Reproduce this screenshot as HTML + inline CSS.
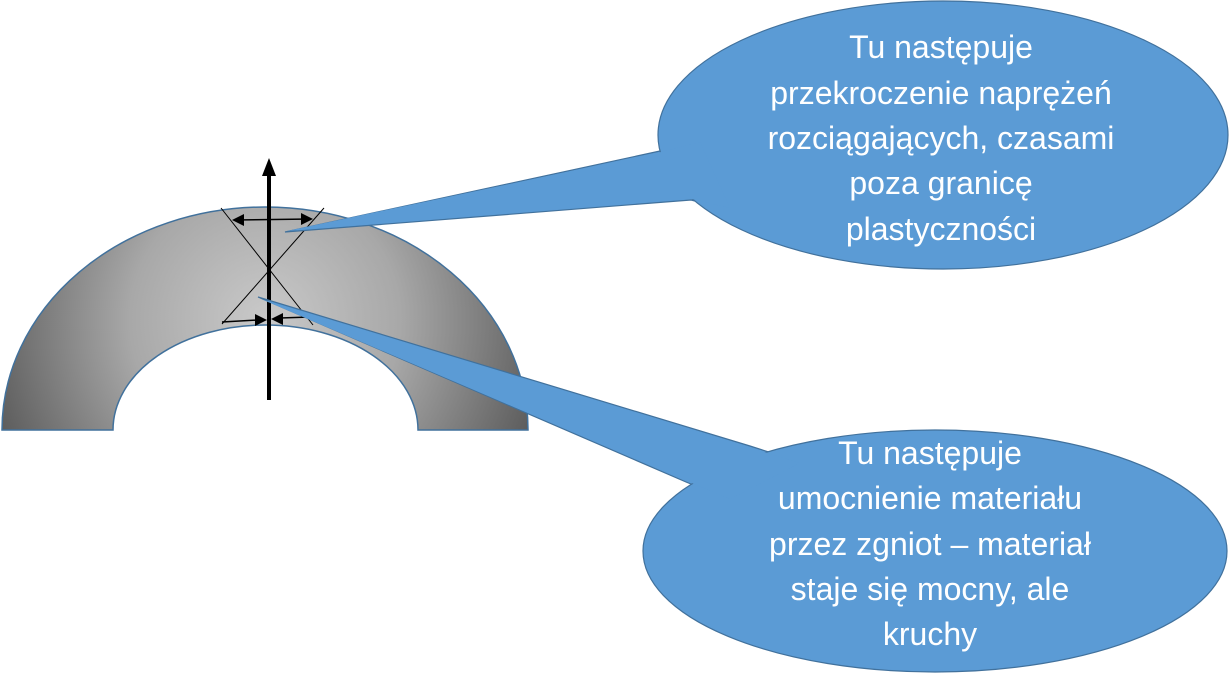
<!DOCTYPE html>
<html><head><meta charset="utf-8"><style>
html,body{margin:0;padding:0;background:#fff;width:1230px;height:677px;overflow:hidden}
svg{display:block}
text{font-family:"Liberation Sans",sans-serif;font-size:32px;fill:#fff;text-anchor:middle}
</style></head><body>
<svg width="1230" height="677" viewBox="0 0 1230 677">
<defs>
<radialGradient id="g" gradientUnits="userSpaceOnUse" cx="265" cy="320" r="300">
<stop offset="0" stop-color="#c9c9c9"/>
<stop offset="0.45" stop-color="#a8a8a8"/>
<stop offset="1" stop-color="#555"/>
</radialGradient>
</defs>
<path d="M2,430 A263,223 0 0 1 528,430 L418,430 A152.5,105 0 0 0 113,430 Z" fill="url(#g)" stroke="#41719c" stroke-width="1.5"/>
<line x1="221" y1="208" x2="313" y2="325" stroke="#000" stroke-width="1"/>
<line x1="324" y1="208" x2="222" y2="324" stroke="#000" stroke-width="1"/>
<line x1="234" y1="220" x2="311" y2="219" stroke="#000" stroke-width="1.5"/>
<path d="M232,220 L244,214 L244,226z" fill="#000"/>
<path d="M313,219 L301,213 L301,225z" fill="#000"/>
<line x1="222" y1="322" x2="258" y2="320" stroke="#000" stroke-width="1.5"/>
<path d="M267,320 L255,314 L255,326z" fill="#000"/>
<line x1="280" y1="318" x2="310" y2="317" stroke="#000" stroke-width="1.5"/>
<path d="M271,319 L283,313 L283,325z" fill="#000"/>
<line x1="269" y1="400" x2="269" y2="172" stroke="#000" stroke-width="4"/>
<path d="M269,158 L262,176 L276,176z" fill="#000"/>
<!-- callout 1 -->
<path d="M700,140 L660,151 L285,232 L691,200 L730,210 Z" fill="#5b9bd5" stroke="#41719c" stroke-width="1.2"/>
<ellipse cx="943" cy="135" rx="285" ry="134" fill="#5b9bd5" stroke="#41719c" stroke-width="1.2"/>
<path d="M700,142 L661,152 L287,231 L692,199 L730,208Z" fill="#5b9bd5"/>
<!-- callout 2 -->
<path d="M800,462 L750,446 L258,297 L686,482 L730,500 Z" fill="#5b9bd5" stroke="#41719c" stroke-width="1.2"/>
<ellipse cx="935" cy="551" rx="292" ry="121" fill="#5b9bd5" stroke="#41719c" stroke-width="1.2"/>
<path d="M800,463 L750,447.5 L261,299 L687,481 L730,499Z" fill="#5b9bd5"/>
<g>
<text x="941" y="58">Tu następuje</text>
<text x="941" y="104">przekroczenie naprężeń</text>
<text x="941" y="149">rozciągających, czasami</text>
<text x="941" y="194">poza granicę</text>
<text x="941" y="240">plastyczności</text>
<text x="930" y="464">Tu następuje</text>
<text x="930" y="509">umocnienie materiału</text>
<text x="930" y="555">przez zgniot – materiał</text>
<text x="930" y="600">staje się mocny, ale</text>
<text x="930" y="645">kruchy</text>
</g>
</svg>
</body></html>
